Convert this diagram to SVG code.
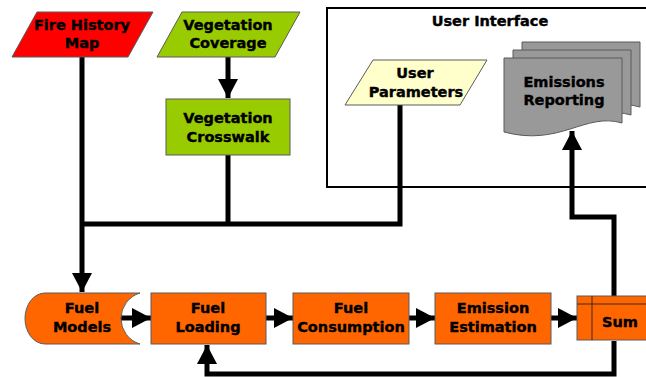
<svg xmlns="http://www.w3.org/2000/svg" width="646" height="377" viewBox="0 0 646 377">
<style>
.t{font-family:"DejaVu Sans","Liberation Sans",sans-serif;font-weight:bold;font-size:14.5px;text-anchor:middle;fill:#000;stroke:#000;stroke-width:0.4}
.sh{stroke:#5a5a5a;stroke-width:1}
.or{fill:#FF6600}
.gr{fill:#99CC00}
.doc{fill:#999999;stroke:#5a5a5a;stroke-width:1}
.c{fill:none;stroke:#000;stroke-width:5;stroke-linejoin:miter;stroke-linecap:butt}
</style>
<defs>
<marker id="ah" markerUnits="userSpaceOnUse" markerWidth="20" markerHeight="20" refX="19" refY="10" orient="auto" viewBox="0 0 20 20">
<path d="M0,0 L19,10 L0,20 Z" fill="#000"/>
</marker>
<path id="docshape" d="M0,0 H118 V65 C81,54 56,89 0,74 Z"/>
</defs>
<rect width="646" height="377" fill="#fff"/>

<g id="user-interface">
<rect x="327" y="8" width="330" height="179" fill="none" stroke="#000" stroke-width="2"/>
<text class="t" x="490" y="26">User Interface</text>
</g>

<g id="connectors">
<path class="c" d="M82,57 V292" marker-end="url(#ah)"/>
<path class="c" d="M228,57 V98" marker-end="url(#ah)"/>
<path class="c" d="M228,155 V224"/>
<path class="c" d="M400,105 V224 H82"/>
<path class="c" d="M121,318 H151" marker-end="url(#ah)"/>
<path class="c" d="M266,318 H293" marker-end="url(#ah)"/>
<path class="c" d="M409,318 H435" marker-end="url(#ah)"/>
<path class="c" d="M551,318 H577" marker-end="url(#ah)"/>
<path class="c" d="M614,296 V217 H572 V131" marker-end="url(#ah)"/>
<path class="c" d="M614,341 V374 H207 V345" marker-end="url(#ah)"/>
</g>

<g id="fire-history-map">
<polygon class="sh" points="37,12 153,12 128,57 12,57" fill="#FF0000"/>
<text class="t" x="82" y="30">Fire History</text>
<text class="t" x="82" y="48">Map</text>
</g>

<g id="vegetation-coverage">
<polygon class="sh gr" points="182,12 300,12 275,57 157,57"/>
<text class="t" x="228" y="30">Vegetation</text>
<text class="t" x="228" y="48">Coverage</text>
</g>

<g id="vegetation-crosswalk">
<rect class="sh gr" x="166" y="99" width="124" height="56"/>
<text class="t" x="228" y="123">Vegetation</text>
<text class="t" x="228" y="142">Crosswalk</text>
</g>

<g id="user-parameters">
<polygon class="sh" points="373,60 487,60 460,105 345,105" fill="#FFFFCC"/>
<text class="t" x="415" y="78">User</text>
<text class="t" x="416" y="97">Parameters</text>
</g>

<g id="emissions-reporting">
<use href="#docshape" class="doc" transform="translate(522,42)"/>
<use href="#docshape" class="doc" transform="translate(513,50)"/>
<use href="#docshape" class="doc" transform="translate(504,58)"/>
<text class="t" x="564" y="87">Emissions</text>
<text class="t" x="564" y="105">Reporting</text>
</g>

<g id="fuel-models">
<path class="sh or" d="M45,293 H140 A26.6,26.6 0 0 0 140,344 H45 A20,25.5 0 0 1 45,293 Z"/>
<text class="t" x="82" y="313">Fuel</text>
<text class="t" x="82" y="332">Models</text>
</g>

<g id="fuel-loading">
<rect class="sh or" x="151" y="293" width="115" height="51"/>
<text class="t" x="208" y="313">Fuel</text>
<text class="t" x="208" y="332">Loading</text>
</g>

<g id="fuel-consumption">
<rect class="sh or" x="293" y="293" width="116" height="51"/>
<text class="t" x="351" y="313">Fuel</text>
<text class="t" x="351" y="332">Consumption</text>
</g>

<g id="emission-estimation">
<rect class="sh or" x="435" y="293" width="116" height="51"/>
<text class="t" x="493" y="313">Emission</text>
<text class="t" x="493" y="332">Estimation</text>
</g>

<g id="sum">
<rect class="sh or" x="577" y="296" width="80" height="44"/>
<path d="M577,304 H646 M592,296 V340" stroke="#3a2a1a" stroke-width="1" fill="none"/>
<text class="t" x="620" y="327">Sum</text>
</g>
</svg>
